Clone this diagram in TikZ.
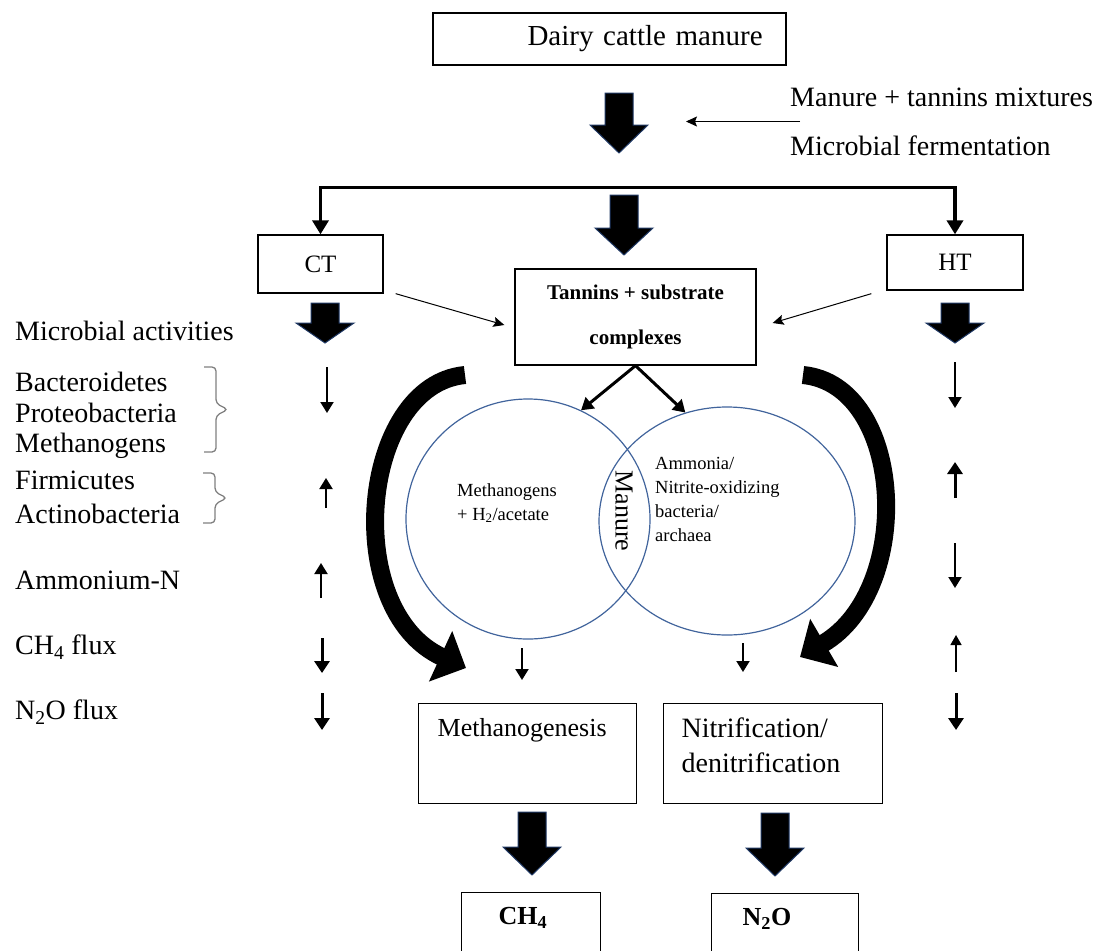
\documentclass[tikz,border=0pt]{standalone}
\usepackage{fontspec}
\setmainfont{Liberation Serif}
\usetikzlibrary{arrows.meta,shapes.geometric,positioning,calc}
\definecolor{cvNavy}{HTML}{1F3864}
\definecolor{cvRing}{HTML}{41649C}
\definecolor{cvBrace}{HTML}{7F7F7F}
\tikzset{
  box/.style={draw=black, line width=1.3pt, inner sep=0pt},
  tbox/.style={box, anchor=north west, align=left, inner ysep=10pt},
  lbl/.style={font=\fontsize{28}{34}\selectfont, inner sep=0pt, anchor=west},
  ctx/.style={font=\fontsize{18.5}{24}\selectfont, inner sep=0pt, anchor=west, align=left},
  ring/.style={ellipse, draw=cvRing, line width=1.2pt, inner sep=0pt},
  blk/.style={fill=black, draw=cvNavy, line width=1pt, line join=miter},
  bigln/.style={line width=3.5pt, draw=black},
  tarr/.style={line width=1pt, -{Stealth[length=11pt,width=10pt,inset=2pt]}},
  marr/.style={line width=3pt, -{Triangle[length=12pt,width=14pt]}},
  sarr/.style={line width=2pt, -{Triangle[length=11pt,width=13pt]}},
  sarrt/.style={line width=1.4pt, -{Triangle[length=10pt,width=11pt]}},
  sarrb/.style={line width=3pt, -{Triangle[length=12pt,width=15pt]}},
  curv/.style={line width=18pt, -{Triangle[length=28pt,width=54pt]}},
  brc/.style={draw=cvBrace, line width=1.3pt, rounded corners=4pt},
}
% block arrow pointing down: x, top y, shaft length, head length
\newcommand{\blkdn}[4]{\draw[blk] (#1,#2) ++(-14,0) -- ++(28,0) -- ++(0,#3) -- ++(15,0) -- ++(-29,#4) -- ++(-29,-#4) -- ++(15,0) -- cycle;}
% angular brace: x, top y, bottom y
\newcommand{\grpbrace}[3]{\draw[brc] (#1,#2) -| ($(#1+12,#2)!0.5!(#1+12,#3)+(0,-6)$) -- ($(#1+24,#2)!0.5!(#1+24,#3)$) -- ($(#1+12,#2)!0.5!(#1+12,#3)+(0,6)$) |- (#1,#3);}

\begin{document}
\begin{tikzpicture}[x=1pt, y=-1pt]
  \useasboundingbox (0,0) rectangle (1104,951);
  \clip (0,0) rectangle (1104,951);

  % top
  \node[box, text width=330pt, inner xsep=11.5pt, minimum height=52pt, align=left, font=\fontsize{29}{34}\selectfont] (dairy) at (609.5,39) {\hspace*{83pt}Dairy cattle manure};
  \node[lbl] (mix) at (790,97) {Manure + tannins mixtures};
  \node[lbl] (ferm) at (790,146) {Microbial fermentation};
  \draw[tarr] ($(mix.west)!0.5!(ferm.west)+(10,0)$) -- ++(-114,0);
  \blkdn{619}{93}{32}{28}
  \blkdn{624}{195}{33}{27}

  % tannin sources
  \node[box, minimum width=125pt, minimum height=58pt, font=\fontsize{25}{30}\selectfont] (ct) at (320.5,264) {CT};
  \node[box, minimum width=136pt, minimum height=55pt, font=\fontsize{25}{30}\selectfont] (ht) at (955,262.5) {HT};
  \draw[bigln, {Triangle[length=14pt,width=16pt]}-{Triangle[length=14pt,width=16pt]}] (ct.north) -- ++(0,-47) -| (ht.north);
  \node[box, minimum width=241pt, minimum height=96pt, align=center, font=\bfseries\fontsize{21}{45}\selectfont] (tan) at (635.5,317) {Tannins + substrate\\complexes};
  \draw[tarr] ([xshift=12pt]ct.south east) -- ([xshift=-10pt,yshift=-8pt]tan.west);
  \draw[tarr] ([xshift=-15pt,yshift=-3pt]ht.south west) -- ([xshift=16pt,yshift=-6pt]tan.east);
  \blkdn{325}{303}{20}{20}
  \blkdn{955}{303}{20}{20}

  % left column
  \node[lbl] (mact) at (15,331) {Microbial activities};
  \node[lbl] (bact) at (15,382) {Bacteroidetes};
  \node[lbl] (prot) at (15,413) {Proteobacteria};
  \node[lbl] (mgen) at (15,446) {Methanogens};
  \node[lbl] (firm) at (15,480) {Firmicutes};
  \node[lbl] (actn) at (15,514) {Actinobacteria};
  \node[lbl] (ammn) at (15,580) {Ammonium-N};
  \node[lbl] (chfx) at (15,647) {CH\textsubscript{4} flux};
  \node[lbl] (nofx) at (15,712) {N\textsubscript{2}O flux};
  \grpbrace{204}{367}{452}
  \grpbrace{203}{473}{523}

  % CT column
  \draw[sarr] (327,367) -- (327,413);
  \draw[sarr] (326,508) -- (326,478);
  \draw[sarr] (321,598) -- (321,563);
  \draw[sarrb] (322,638) -- (322,673);
  \draw[sarrb] (322,693) -- (322,730);

  % HT column
  \draw[sarr] (955,362) -- (955,408);
  \draw[sarrb] (955,498) -- (955,462);
  \draw[sarr] (955,543) -- (955,588);
  \draw[sarrt] (956,672) -- (956,635);
  \draw[sarrb] (956,693) -- (956,730);

  % circles
  \node[ring, minimum width=244pt, minimum height=240pt] (lc) at (528,519) {};
  \node[ring, minimum width=256pt, minimum height=228pt] (rc) at (727,521) {};
  \node[ctx] (mgtxt) at (457,503) {Methanogens\\+ H\textsubscript{2}/acetate};
  \node[ctx] (amtxt) at (655,499) {Ammonia/\\Nitrite-oxidizing\\bacteria/\\archaea};
  \node[rotate=-90, inner sep=0pt, font=\fontsize{26}{30}\selectfont] (mnr) at (624,511) {Manure};
  \draw[marr] (tan.south) -- (lc.64);
  \draw[marr] (tan.south) -- (rc.111);

  % curved arrows
  \draw[curv] (465,375) .. controls (360,385) and (340,610) .. (466,668);
  \draw[curv] (803,375) .. controls (905,385) and (915,590) .. (800,657);
  \draw[sarr] (522,648) -- (522,680);
  \draw[sarr] (743,643) -- (743,672);

  % processes and products
  \node[tbox, inner xsep=19pt, text width=180pt, text height=23pt, text depth=57pt, font=\fontsize{26}{35}\selectfont] (meth) at (418,703) {Methanogenesis};
  \node[tbox, inner xsep=18pt, text width=183pt, text height=24pt, text depth=56pt, font=\fontsize{28}{35}\selectfont] (nitr) at (663,703) {Nitrification/\\denitrification};
  \blkdn{532}{812}{35}{28}
  \blkdn{775}{813}{35}{28}
  \node[tbox, inner xsep=37pt, inner ysep=6pt, text width=65pt, text height=26pt, text depth=80pt, font=\bfseries\fontsize{26}{30}\selectfont] (ch4) at (461,892) {CH\textsubscript{4}};
  \node[tbox, inner xsep=31pt, inner ysep=6pt, text width=85pt, text height=26pt, text depth=80pt, font=\bfseries\fontsize{26}{30}\selectfont] (n2o) at (711,893) {N\textsubscript{2}O};
\end{tikzpicture}
\end{document}
